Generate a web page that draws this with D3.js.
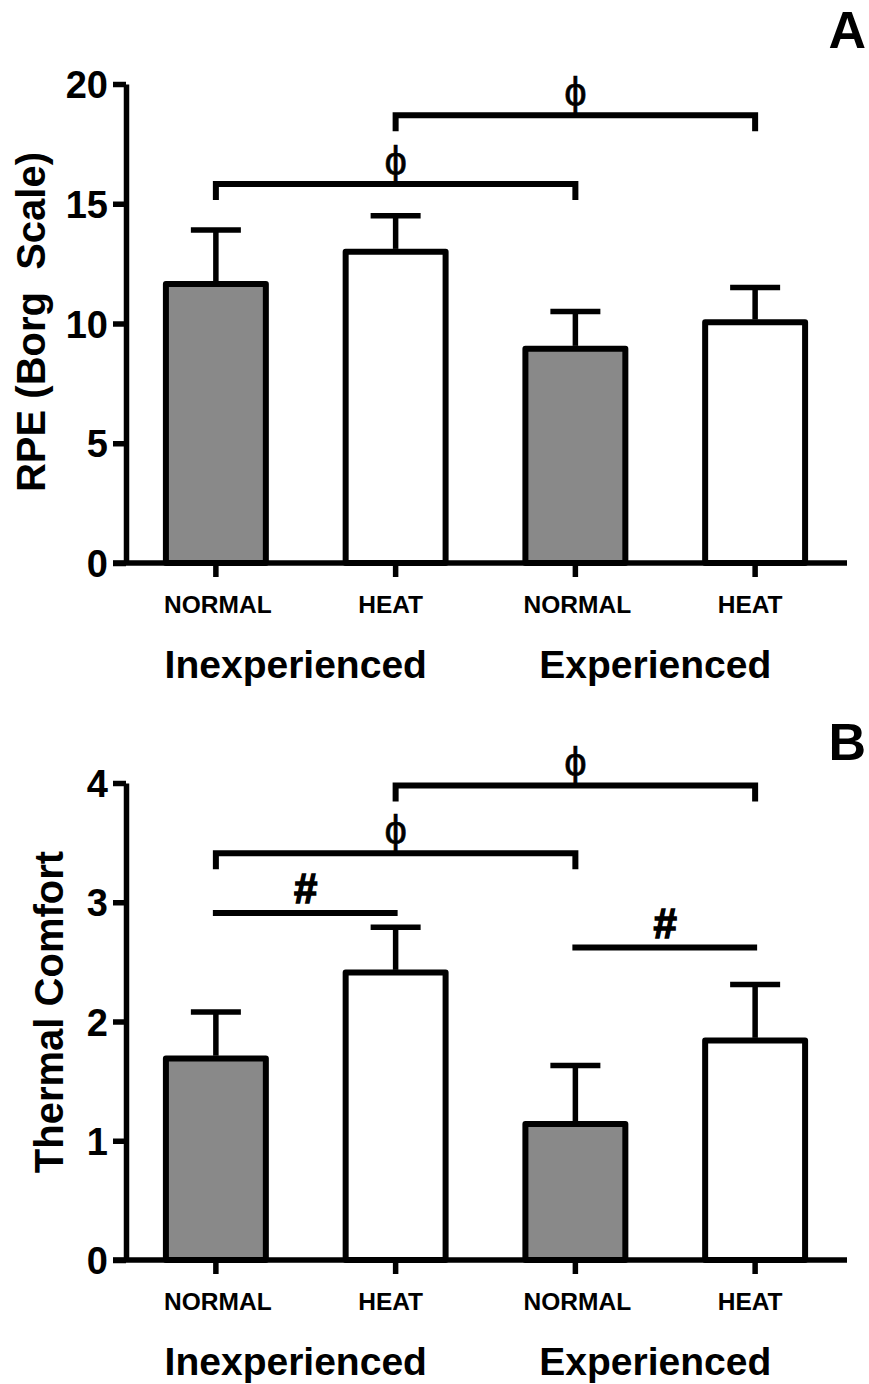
<!DOCTYPE html>
<html>
<head>
<meta charset="utf-8">
<script src="https://cdn.jsdelivr.net/npm/d3@7"></script>
<style>
  html, body { margin: 0; padding: 0; background: #ffffff; }
  svg { display: block; }
  text { font-family: "Liberation Sans", Arial, Helvetica, sans-serif; fill: #000; }
</style>
</head>
<body>
<svg id="fig" width="869" height="1384"></svg>
<script>
// Conditions and groups
const conditions = ["NORMAL", "HEAT", "NORMAL", "HEAT"];
const groups = ["Inexperienced", "Experienced"];
const barKeys = ["inexp-normal", "inexp-heat", "exp-normal", "exp-heat"];
const barFills = ["#898989", "#ffffff", "#898989", "#ffffff"];

// Panel A: rating of perceived exertion (mean, SD)
const rpeMean = [11.65, 13.0, 8.95, 10.05];
const rpeSD = [2.25, 1.5, 1.55, 1.45];
const rpeTicks = [0, 5, 10, 15, 20];

// Panel B: thermal comfort (mean, SD)
const comfortMean = [1.69, 2.41, 1.14, 1.84];
const comfortSD = [0.39, 0.38, 0.49, 0.47];
const comfortTicks = [0, 1, 2, 3, 4];

// Significance annotations: [from bar, to bar, level, symbol, kind]
const rpeSig = [
  [0, 2, 15.82, "\u03D5", "bracket"],
  [1, 3, 18.7, "\u03D5", "bracket"]
];
const comfortSig = [
  [0, 2, 3.41, "\u03D5", "bracket"],
  [1, 3, 3.98, "\u03D5", "bracket"],
  [0, 1, 2.91, "#", "line"],
  [2, 3, 2.62, "#", "line"]
];

const svg = d3.select("#fig");
svg.append("rect").attr("width", 869).attr("height", 1384).attr("fill", "#fff");

const LW = 5.5;

function panel(opts) {
  const g = svg.append("g");
  const x = d3.scaleBand()
    .domain(barKeys)
    .range([126, 845])
    .paddingInner(0.444)
    .paddingOuter(0.222);
  const y = d3.scaleLinear().domain(opts.domain).range([opts.y0, opts.y1]);
  const cx = k => x(k) + x.bandwidth() / 2;

  // bars
  g.selectAll("rect.bar")
    .data(opts.mean)
    .join("rect")
    .attr("class", "bar")
    .attr("x", (d, i) => x(barKeys[i]))
    .attr("width", x.bandwidth())
    .attr("y", d => y(d))
    .attr("height", d => y(0) - y(d))
    .attr("fill", (d, i) => barFills[i])
    .attr("stroke", "#000")
    .attr("stroke-width", LW + 0.5)
    .attr("stroke-linejoin", "round");

  // error bars (upper only)
  opts.mean.forEach((m, i) => {
    const c = cx(barKeys[i]);
    const top = y(m + opts.sd[i]);
    g.append("line")
      .attr("x1", c).attr("x2", c)
      .attr("y1", y(m) - LW / 2).attr("y2", top)
      .attr("stroke", "#000").attr("stroke-width", LW);
    g.append("line")
      .attr("x1", c - 25).attr("x2", c + 25)
      .attr("y1", top).attr("y2", top)
      .attr("stroke", "#000").attr("stroke-width", LW);
  });

  // y axis
  const ya = g.append("g")
    .attr("transform", "translate(126,0)")
    .call(d3.axisLeft(y).tickValues(opts.ticks).tickFormat(d3.format("d"))
      .tickSize(13).tickSizeOuter(0).tickPadding(5));
  ya.select(".domain").attr("stroke", "#000").attr("stroke-width", LW);
  ya.selectAll(".tick line").attr("stroke", "#000").attr("stroke-width", LW);
  ya.selectAll(".tick text")
    .attr("font-family", "Liberation Sans, Arial, sans-serif")
    .attr("font-weight", "bold")
    .attr("font-size", 38)
    .attr("dy", "0.36em");

  // x axis
  g.append("line")
    .attr("x1", 113).attr("x2", 847)
    .attr("y1", y(0)).attr("y2", y(0))
    .attr("stroke", "#000").attr("stroke-width", LW);
  const xa = g.append("g")
    .attr("transform", `translate(0,${y(0)})`)
    .call(d3.axisBottom(x).tickSize(14).tickSizeOuter(0).tickFormat(""));
  xa.select(".domain").remove();
  xa.selectAll(".tick line").attr("stroke", "#000").attr("stroke-width", LW);

  // condition labels
  g.selectAll("text.cond")
    .data(conditions)
    .join("text")
    .attr("class", "cond")
    .attr("x", (d, i) => cx(barKeys[i]) - (i % 2 ? 5 : -2))
    .attr("y", y(0) + 50)
    .attr("text-anchor", "middle")
    .attr("font-weight", "bold")
    .attr("font-size", 24.5)
    .text(d => d);

  // group labels
  g.selectAll("text.grp")
    .data(groups)
    .join("text")
    .attr("class", "grp")
    .attr("x", (d, i) => (cx(barKeys[2 * i]) + cx(barKeys[2 * i + 1])) / 2 - 10)
    .attr("y", y(0) + 115)
    .attr("text-anchor", "middle")
    .attr("font-weight", "bold")
    .attr("font-size", 39)
    .text(d => d);

  // y title
  g.append("text")
    .attr("transform", `translate(${opts.titleX},${opts.titleY}) rotate(-90)`)
    .attr("text-anchor", "middle")
    .attr("font-weight", "bold")
    .attr("font-size", 40)
    .attr("xml:space", "preserve")
    .style("white-space", "pre")
    .text(opts.title);

  // panel letter
  g.append("text")
    .attr("x", 866).attr("y", opts.letterY)
    .attr("text-anchor", "end")
    .attr("font-weight", "bold")
    .attr("font-size", 52)
    .text(opts.letter);

  // significance marks
  opts.sig.forEach(([a, b, level, sym, kind]) => {
    const xa0 = cx(barKeys[a]);
    const xb0 = cx(barKeys[b]);
    const ly = y(level);
    if (kind === "bracket") {
      g.append("path")
        .attr("d", `M${xa0},${ly + 16}V${ly}H${xb0}V${ly + 16}`)
        .attr("fill", "none")
        .attr("stroke", "#000")
        .attr("stroke-width", 6)
        .attr("stroke-linejoin", "miter");
      g.append("text")
        .attr("x", (xa0 + xb0) / 2)
        .attr("y", ly - 9)
        .attr("text-anchor", "middle")
        .attr("font-family", "Liberation Serif, DejaVu Serif, serif")
        .attr("font-size", 40)
        .attr("stroke", "#000")
        .attr("stroke-width", 0.6)
        .text(sym);
    } else {
      g.append("line")
        .attr("x1", xa0 - 3).attr("x2", xb0 + 2)
        .attr("y1", ly).attr("y2", ly)
        .attr("stroke", "#000")
        .attr("stroke-width", 6);
      g.append("text")
        .attr("x", (xa0 + xb0) / 2)
        .attr("y", ly - 10)
        .attr("text-anchor", "middle")
        .attr("font-weight", "bold")
        .attr("font-size", 42)
        .attr("stroke", "#000")
        .attr("stroke-width", 1.4)
        .text(sym);
    }
  });
}

panel({
  mean: rpeMean, sd: rpeSD, ticks: rpeTicks, domain: [0, 20],
  y0: 563, y1: 84, sig: rpeSig,
  title: "RPE (Borg  Scale)", titleX: 45, titleY: 322,
  letter: "A", letterY: 48
});

panel({
  mean: comfortMean, sd: comfortSD, ticks: comfortTicks, domain: [0, 4],
  y0: 1260, y1: 783, sig: comfortSig,
  title: "Thermal Comfort", titleX: 63, titleY: 1012,
  letter: "B", letterY: 760
});
</script>
</body>
</html>
